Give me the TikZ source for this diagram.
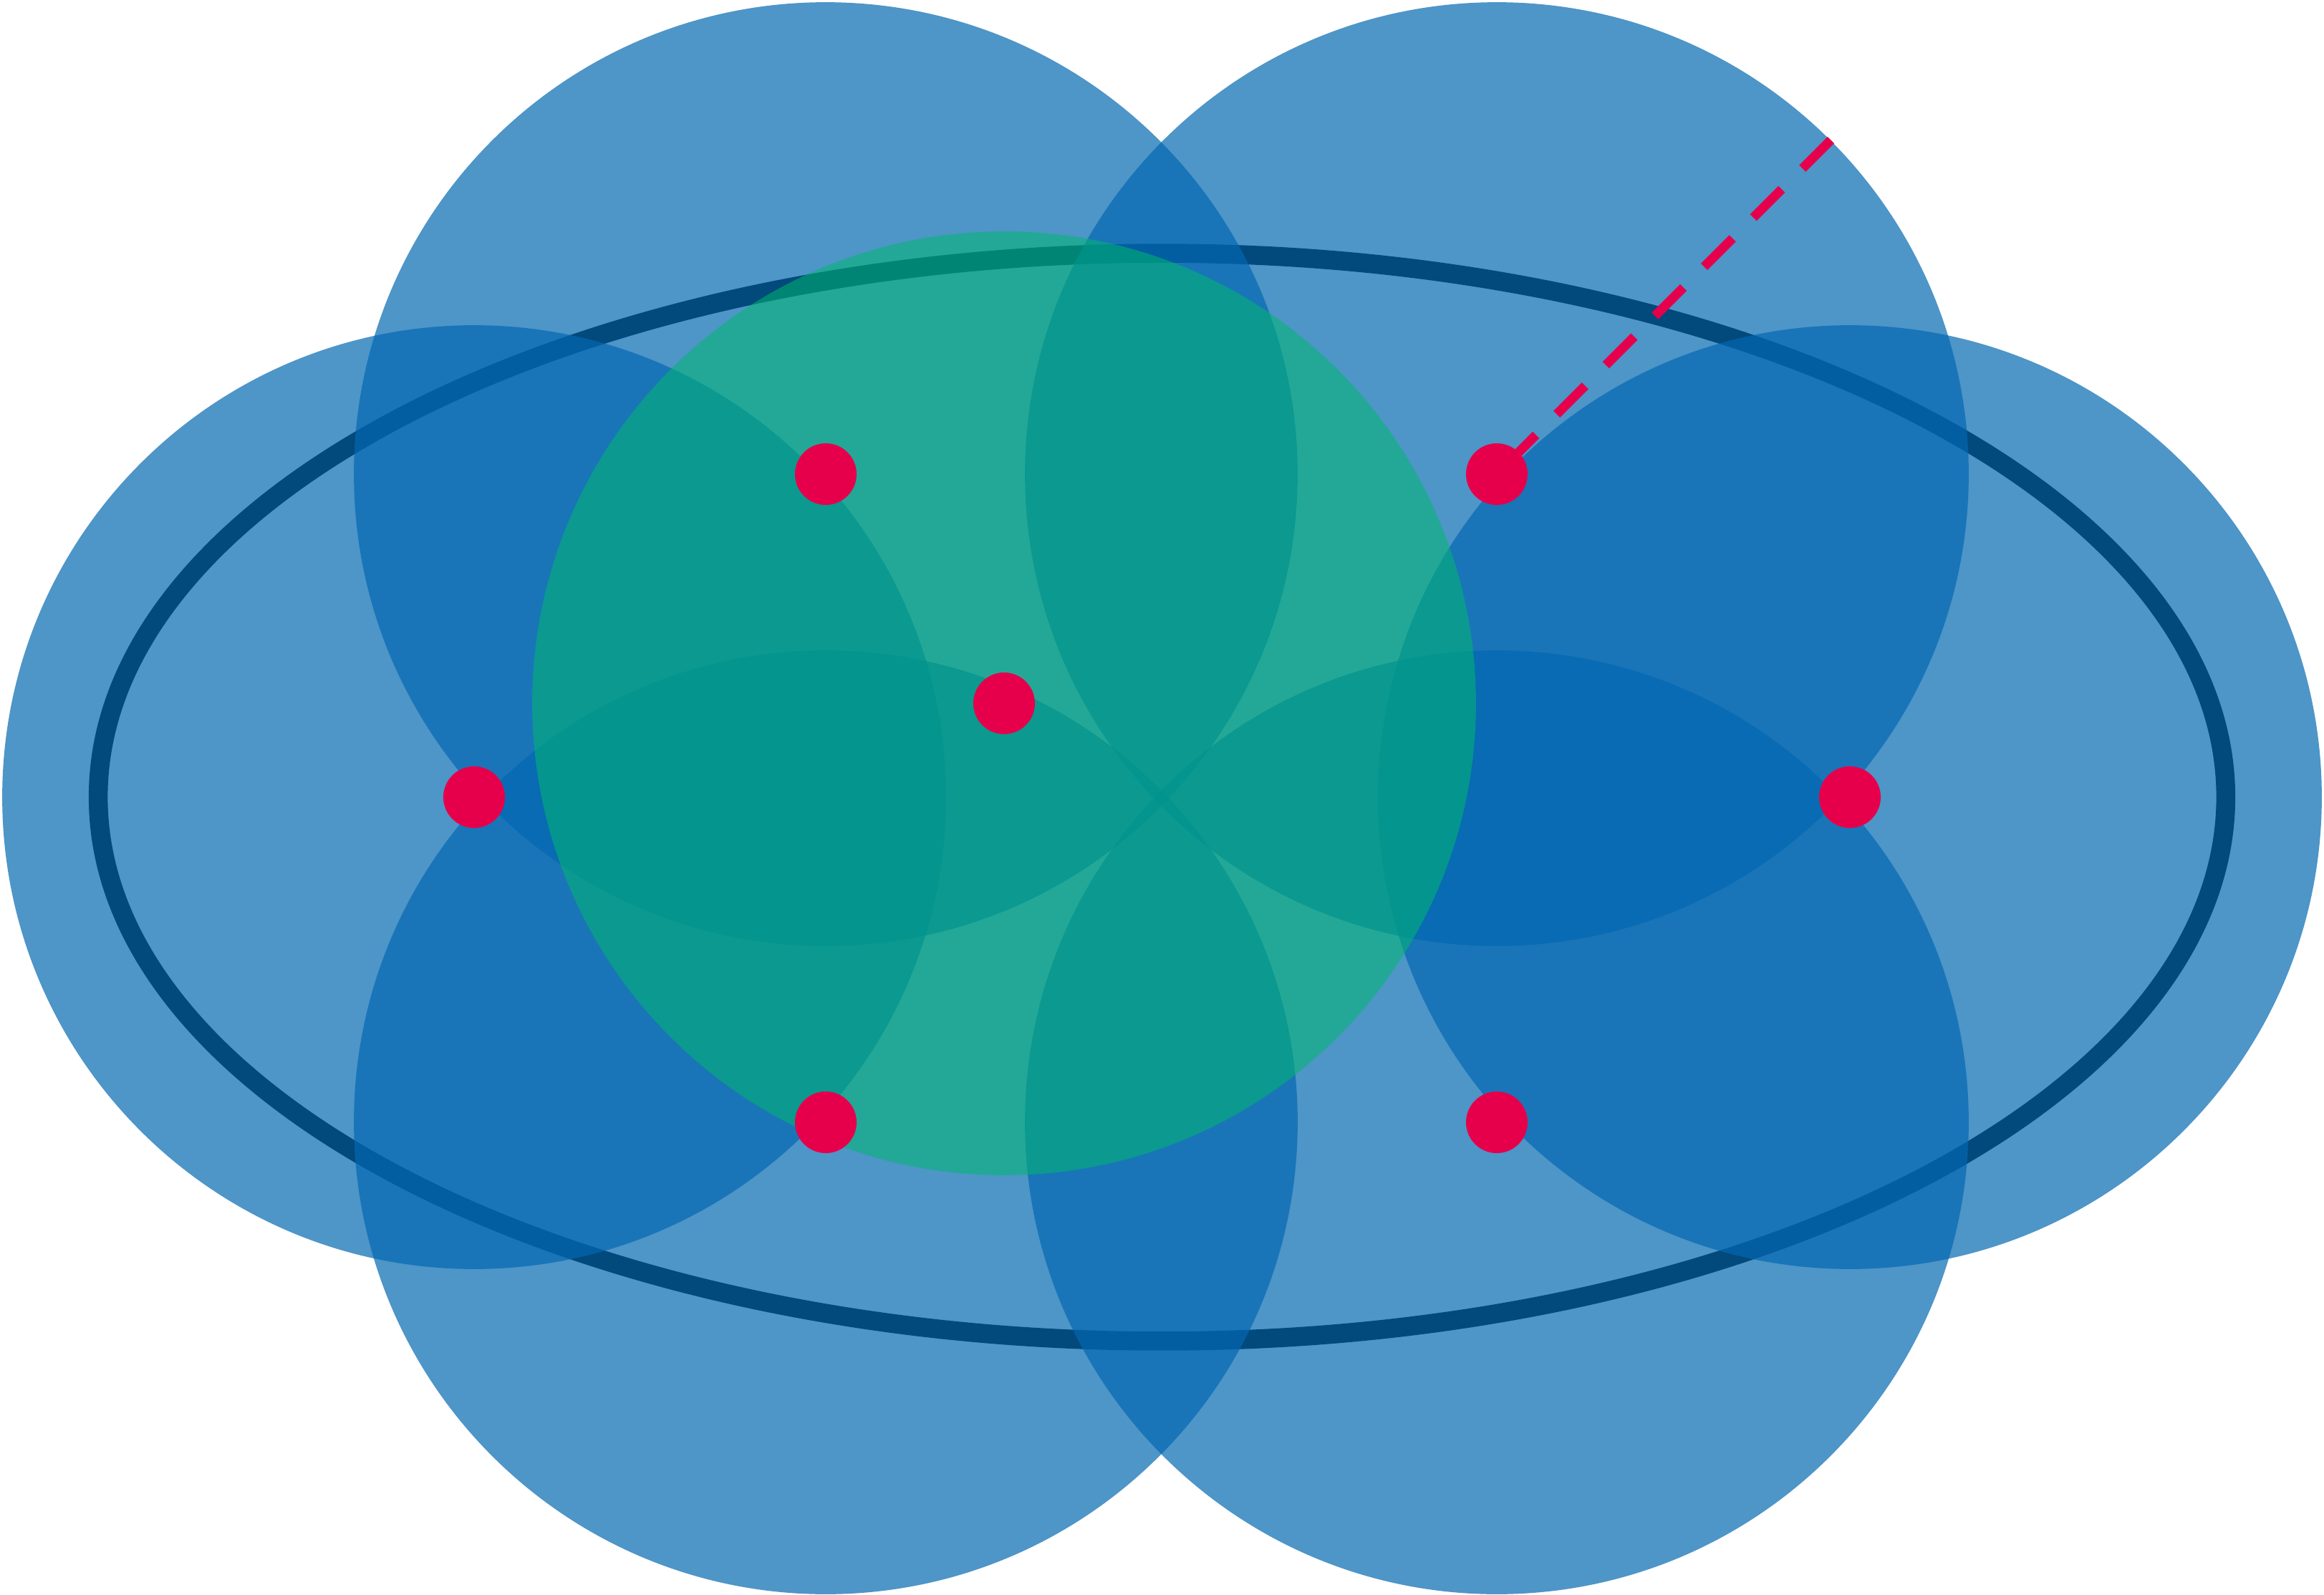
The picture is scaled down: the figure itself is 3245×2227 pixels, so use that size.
\documentclass[tikz,border=0pt]{standalone}
\usetikzlibrary{shapes.geometric}
\definecolor{cblue}{RGB}{3,104,178}
\definecolor{cgreen}{RGB}{0,185,111}
\definecolor{cred}{RGB}{230,0,75}
\definecolor{cring}{RGB}{0,0,0}
\tikzset{
  bluedisc/.style={circle, inner sep=0pt, minimum size=13.17cm, fill=cblue, fill opacity=0.7, draw=none},
  greendisc/.style={circle, inner sep=0pt, minimum size=13.17cm, fill=cgreen, fill opacity=0.54, draw=none},
  reddot/.style={circle, inner sep=0pt, minimum size=0.86cm, fill=cred, draw=none},
  ringline/.style={draw=cring, line width=0.265cm},
  radiusline/.style={draw=cred, line width=0.13cm, dash pattern=on 0.56cm off 0.41cm}
}
\begin{document}
\begin{tikzpicture}[x=0.01cm, y=-0.01cm]
\useasboundingbox (0,0) rectangle (3245,2227);
\fill[white] (0,0) rectangle (3245,2227);
% outer ring (under the discs)
\node[ellipse, inner sep=0pt, minimum width=29.69cm, minimum height=15.18cm, ringline] (ring) at (1622.5,1113) {};
% blue discs
\node[bluedisc] (Lc) at (662,1113) {};
\node[bluedisc] (TLc) at (1153,662) {};
\node[bluedisc] (TRc) at (2090,662) {};
\node[bluedisc] (Rc) at (2583,1113) {};
\node[bluedisc] (BLc) at (1153,1567) {};
\node[bluedisc] (BRc) at (2090,1567) {};
% green disc
\node[greendisc] (Gc) at (1402,982) {};
% radius line
\coordinate (Redge) at (TRc.45);
\draw[radiusline] (Redge) -- (TRc.center);
% centre dots
\node[reddot] (Ld) at (Lc.center) {};
\node[reddot] (TLd) at (TLc.center) {};
\node[reddot] (TRd) at (TRc.center) {};
\node[reddot] (Rd) at (Rc.center) {};
\node[reddot] (BLd) at (BLc.center) {};
\node[reddot] (BRd) at (BRc.center) {};
\node[reddot] (Gd) at (Gc.center) {};
\end{tikzpicture}
\end{document}
